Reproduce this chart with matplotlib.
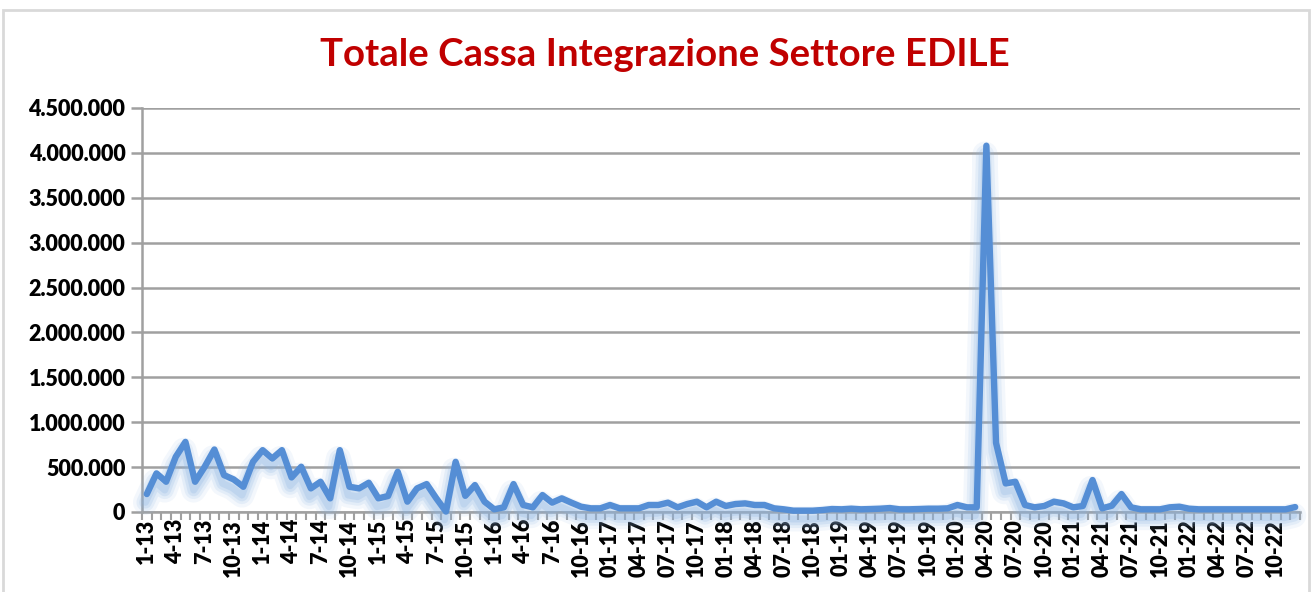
import matplotlib
matplotlib.use("Agg")
import matplotlib.pyplot as plt
import matplotlib.patheffects as pe
from matplotlib.ticker import FuncFormatter, FixedLocator
from matplotlib.patches import Rectangle
import numpy as np

# ---- data (thousands of hours, monthly Jan 2013 - Dec 2022) ----
values_k = [
    200, 430, 337, 615, 781, 337, 504, 696, 411, 363, 281, 559,   # 2013
    689, 596, 689, 385, 504, 263, 337, 152, 689, 281, 263, 326,   # 2014
    152, 178, 448, 115, 263, 311, 152, 5, 559, 180, 300, 115,     # 2015
    30, 52, 311, 78, 52, 189, 104, 152, 104, 59, 41, 41,          # 2016
    78, 41, 41, 41, 78, 78, 104, 52, 89, 115, 52, 115,            # 2017
    67, 89, 96, 78, 78, 41, 30, 15, 15, 15, 22, 33,               # 2018
    30, 37, 30, 33, 37, 44, 30, 30, 33, 37, 37, 41,               # 2019
    78, 52, 52, 4080, 770, 318, 337, 78, 52, 67, 115, 96,         # 2020
    52, 67, 356, 41, 70, 200, 52, 30, 30, 30, 52, 59,             # 2021
    37, 30, 30, 30, 30, 30, 30, 30, 30, 30, 30, 55,               # 2022
]
values = [v * 1000 for v in values_k]

years = list(range(2013, 2023))
months_shown = [1, 4, 7, 10]
tick_labels = []
for y in years:
    for m in months_shown:
        if y <= 2016 and not (y == 2016 and m == 10):
            tick_labels.append(f"{m}-{y % 100:02d}")
        else:
            tick_labels.append(f"{m:02d}-{y % 100:02d}")

title = "Totale Cassa Integrazione Settore EDILE"
yticks = list(range(0, 4500001, 500000))

# ---- figure ----
fig = plt.figure(figsize=(13.12, 5.92), dpi=100)
fig.patch.set_facecolor("white")
fig.add_artist(Rectangle((3 / 1312, -0.02), 1306 / 1312, (582 / 592) + 0.02,
                         transform=fig.transFigure, fill=False,
                         edgecolor="#D9D9D9", linewidth=2))

ax = fig.add_axes([142 / 1312, 80 / 592, 1158 / 1312, 404 / 592])
x = np.arange(len(values))

line_color = "#558ED5"
shadow = []
for lw, a in [(18, 0.10), (13, 0.15), (9, 0.2), (5, 0.25)]:
    shadow.append(pe.SimpleLineShadow(offset=(-1, -6), shadow_color="#8DB4E2",
                                      alpha=a, linewidth=lw))
ax.plot(x, values, color=line_color, linewidth=4.6, solid_joinstyle="round",
        solid_capstyle="round", clip_on=False, zorder=3,
        path_effects=shadow + [pe.Normal()])

ax.set_xlim(-0.5, len(values) - 0.5)
ax.set_ylim(0, 4500000)

ax.yaxis.set_major_locator(FixedLocator(yticks))
ax.yaxis.set_major_formatter(FuncFormatter(lambda v, p: f"{int(v):,}".replace(",", ".")))
ax.grid(axis="y", color="#A0A0A0", linewidth=1.8)
ax.set_axisbelow(True)

label_pos = list(range(0, len(values), 3))
ax.set_xticks(label_pos)
ax.set_xticklabels(tick_labels, rotation=90)
ax.set_xticks(np.arange(-0.5, len(values), 1), minor=True)
ax.tick_params(axis="x", which="major", length=0, pad=5)
ax.tick_params(axis="x", which="minor", length=6, width=1.5, color="#A0A0A0")
ax.tick_params(axis="y", length=8, width=1.8, color="#A0A0A0", pad=4)

for lab in ax.get_xticklabels() + ax.get_yticklabels():
    lab.set_fontfamily("Lato")
    lab.set_fontweight("heavy")
    lab.set_fontsize(15.5)
    lab.set_color("black")

for s in ["top", "right"]:
    ax.spines[s].set_visible(False)
ax.spines["left"].set_color("#A0A0A0")
ax.spines["left"].set_linewidth(1.8)
ax.spines["bottom"].set_color("#A0A0A0")
ax.spines["bottom"].set_linewidth(1.8)

fig.text(665 / 1312, 1 - 55 / 592, title, ha="center", va="center",
         fontsize=27.6, fontweight="bold", color="#C00000", family="Lato")

fig.savefig("out.png", dpi=100)
